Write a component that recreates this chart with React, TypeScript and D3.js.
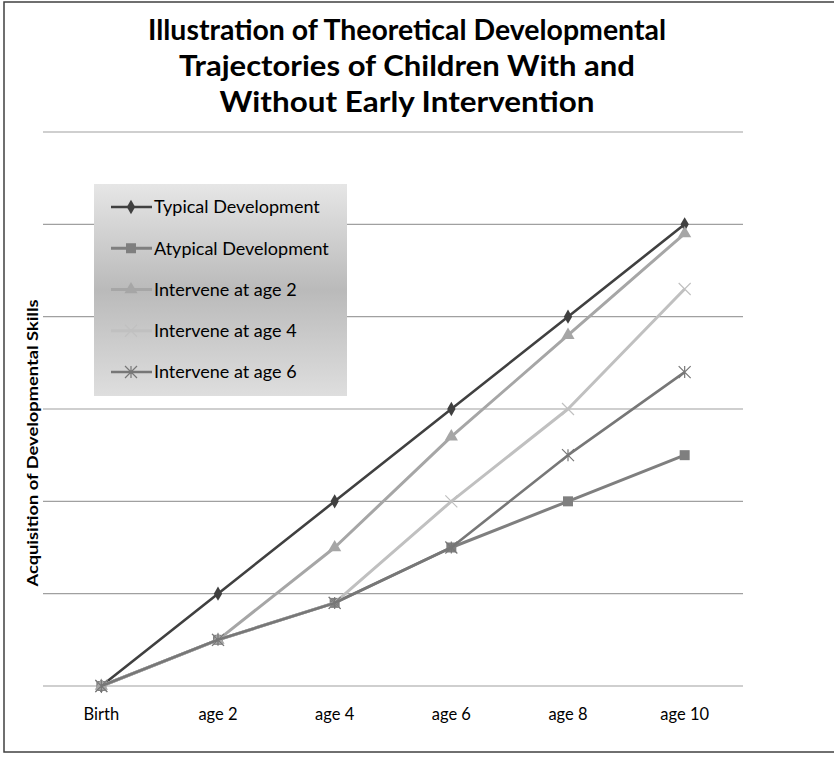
import React from "react";
import * as d3 from "d3";

const categories = ["Birth", "age 2", "age 4", "age 6", "age 8", "age 10"];

const typical = [0, 1, 2, 3, 4, 5];
const atypical = [0, 0.5, 0.9, 1.5, 2, 2.5];
const intervene2 = [0, 0.5, 1.5, 2.7, 3.8, 4.9];
const intervene4 = [0, 0.5, 0.9, 2, 3, 4.3];
const intervene6 = [0, 0.5, 0.9, 1.5, 2.5, 3.4];

const seriesNames = [
    "Typical Development",
    "Atypical Development",
    "Intervene at age 2",
    "Intervene at age 4",
    "Intervene at age 6",
];

const titleLines = [
    "Illustration of Theoretical Developmental",
    "Trajectories of Children With and",
    "Without Early Intervention",
];

const yTicks = [0, 1, 2, 3, 4, 5, 6];

type MarkerKind = "diamond" | "square" | "triangle" | "x" | "star";

interface Series {
    name: string;
    values: number[];
    color: string;
    width: number;
    marker: MarkerKind;
}

const seriesList: Series[] = [
    {name: seriesNames[0], values: typical, color: "#404040", width: 2.6, marker: "diamond"},
    {name: seriesNames[1], values: atypical, color: "#7f7f7f", width: 3, marker: "square"},
    {name: seriesNames[2], values: intervene2, color: "#a6a6a6", width: 3, marker: "triangle"},
    {name: seriesNames[3], values: intervene4, color: "#c0c0c0", width: 3, marker: "x"},
    {name: seriesNames[4], values: intervene6, color: "#777777", width: 2.6, marker: "star"},
];

const FONT = "Lato, 'Open Sans', sans-serif";

function Marker({kind, x, y, color}: {kind: MarkerKind; x: number; y: number; color: string}) {
    if (kind === "diamond") {
        const p = d3.symbol().type(d3.symbolDiamond).size(60)();
        return <path d={p || ""} transform={`translate(${x},${y})`} fill={color} />;
    }
    if (kind === "square") {
        return <rect x={x - 5} y={y - 5} width={10} height={10} fill={color} />;
    }
    if (kind === "triangle") {
        const p = d3.symbol().type(d3.symbolTriangle).size(75)();
        return <path d={p || ""} transform={`translate(${x},${y})`} fill={color} />;
    }
    const r = 6;
    let d = `M${-r},${-r}L${r},${r}M${-r},${r}L${r},${-r}`;
    if (kind === "star") d += `M0,${-r}L0,${r}`;
    return <path d={d} transform={`translate(${x},${y})`} stroke={color} strokeWidth={1.2} fill="none" />;
}

export default function App() {
    const width = 834;
    const height = 757;
    const plot = {left: 43, right: 743, top: 132, bottom: 686};

    const x = d3.scaleBand<string>().domain(categories).range([plot.left, plot.right]);
    const cx = (c: string) => (x(c) || 0) + x.bandwidth() / 2;
    const y = d3.scaleLinear().domain([0, 6]).range([plot.bottom, plot.top]);

    const line = d3.line<number>()
        .x((_, i) => cx(categories[i]))
        .y(d => y(d));

    const legendBox = {x: 94, y: 184, w: 253, h: 212};
    const legendY = d3.scalePoint<string>().domain(seriesNames).range([207, 372]);

    return (
        <svg width={width} height={height} style={{position: "absolute", left: 0, top: 0}}
             fontFamily={FONT}>
            <defs>
                <linearGradient id="legendGrad" x1="0" y1="0" x2="0" y2="1">
                    <stop offset="0" stopColor="#e6e6e6" />
                    <stop offset="0.5" stopColor="#bababa" />
                    <stop offset="1" stopColor="#dedede" />
                </linearGradient>
            </defs>
            <rect x={0} y={0} width={width} height={height} fill="#ffffff" />
            <rect x={4} y={2} width={width + 10} height={750} fill="none" stroke="#404040" strokeWidth={1.5} />

            {titleLines.map((t, i) => (
                <text key={t} x={407} y={40 + i * 36} textAnchor="middle" fontWeight="bold"
                      fontSize={28} fill="#000"
                      textLength={[518, 456, 375][i]} lengthAdjust="spacingAndGlyphs">
                    {t}
                </text>
            ))}

            {yTicks.map(t => (
                <line key={t} x1={plot.left} x2={plot.right} y1={y(t)} y2={y(t)}
                      stroke="#a0a0a0" strokeWidth={1.2} />
            ))}

            {categories.map(c => (
                <text key={c} x={cx(c)} y={720} textAnchor="middle" fontSize={16.5} fill="#000">
                    {c}
                </text>
            ))}

            <text transform={`translate(38,${443}) rotate(-90)`} textAnchor="middle" fontWeight="bold"
                  fontSize={15} textLength={287} lengthAdjust="spacingAndGlyphs" fill="#000">
                Acquisition of Developmental Skills
            </text>

            {seriesList.map(s => (
                <g key={s.name}>
                    <path d={line(s.values) || ""} fill="none" stroke={s.color} strokeWidth={s.width}
                          strokeLinejoin="round" />
                    {s.values.map((v, i) => (
                        <Marker key={i} kind={s.marker} x={cx(categories[i])} y={y(v)} color={s.color} />
                    ))}
                </g>
            ))}

            <rect x={legendBox.x} y={legendBox.y} width={legendBox.w} height={legendBox.h}
                  fill="url(#legendGrad)" />
            {seriesList.map(s => {
                const ly = legendY(s.name) || 0;
                return (
                    <g key={s.name}>
                        <line x1={111} x2={152} y1={ly} y2={ly} stroke={s.color} strokeWidth={s.width} />
                        <Marker kind={s.marker} x={131} y={ly} color={s.color} />
                        <text x={154} y={ly} dy="0.35em" fontSize={18} fill="#000">{s.name}</text>
                    </g>
                );
            })}
        </svg>
    );
}
